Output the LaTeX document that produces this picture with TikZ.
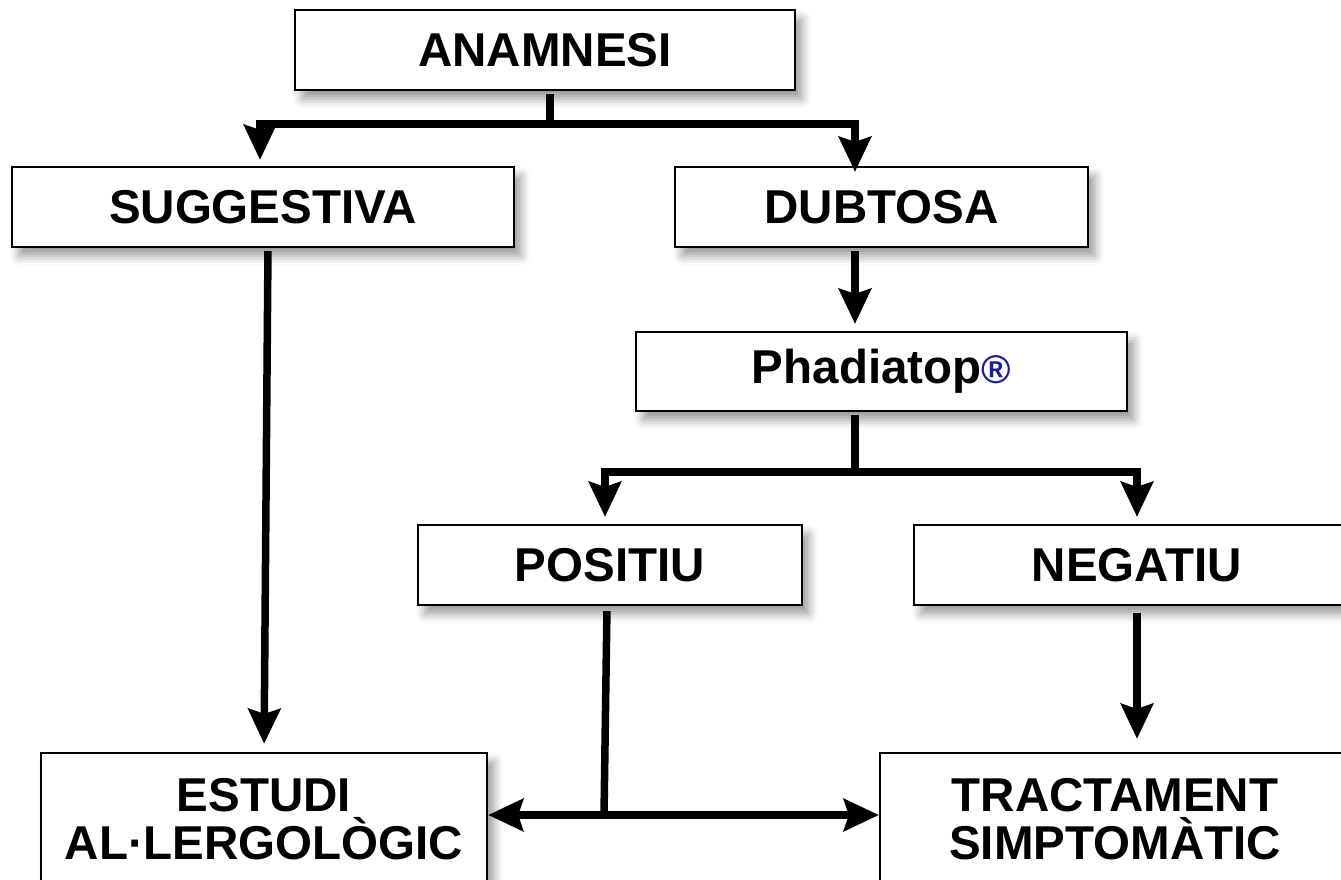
\documentclass[tikz,border=0pt]{standalone}
\usepackage{fontspec}
\setmainfont{Liberation Sans}
\usetikzlibrary{arrows.meta,shadows.blur,calc}
\definecolor{regblue}{RGB}{30,30,150}
\begin{document}
\begin{tikzpicture}[x=1pt,y=-1pt,
  box/.style={draw=black,line width=2.2pt,fill=white,inner sep=0pt,align=center,
    font=\bfseries\fontsize{47.5}{48}\selectfont,
    blur shadow={shadow xshift=7pt,shadow yshift=-9pt,shadow blur radius=9pt,shadow opacity=40}},
  conn/.style={line width=7.5pt,line cap=butt,line join=miter},
  arr/.style={conn,-{Stealth[length=35pt,width=32pt,inset=5pt]}}]
\useasboundingbox (0,0) rectangle (1341,879);

\node[box,minimum width=500pt,minimum height=80pt] (anam) at (545,50) {ANAMNESI};
\node[box,minimum width=502pt,minimum height=80pt] (sugg) at (263,207) {SUGGESTIVA};
\node[box,minimum width=413pt,minimum height=80pt] (dub) at (881.5,207) {DUBTOSA};
\node[box,minimum width=491pt,minimum height=79pt] (phad) at (881.5,371.5) {Phadiatop\textcolor{regblue}{\fontsize{40}{40}\selectfont ®}};
\node[box,minimum width=384pt,minimum height=80pt] (pos) at (610,565) {POSITIU};
\node[box,minimum width=446pt,minimum height=80pt] (neg) at (1137,565) {NEGATIU};
\node[box,minimum width=446pt,minimum height=132pt] (est) at (264,819) {ESTUDI\\AL·LERGOLÒGIC};
\node[box,minimum width=470pt,minimum height=132pt] (tract) at (1115,819) {TRACTAMENT\\SIMPTOMÀTIC};

\coordinate (j1) at (550,124);
\coordinate (cx) at (855,0);
\coordinate (j2) at (855,472);
\coordinate (jp) at (604,815);

% anamnesi split
\draw[conn,shorten <=3pt] (anam.south -| j1) -- (j1);
\draw[arr,shorten >=6pt] (j1) -| ([xshift=-3pt]sugg.north);
\draw[arr,shorten >=-6pt] (j1) -| (dub.north -| cx);
% suggestiva -> estudi
\draw[arr,shorten <=3pt,shorten >=8pt] ([xshift=5pt]sugg.south) -- (est.north);
% dubtosa -> phadiatop
\draw[arr,shorten <=3pt,shorten >=7pt] (dub.south -| cx) -- (phad.north -| cx);
% phadiatop split
\draw[conn,shorten <=3pt] (phad.south -| cx) -- (j2);
\draw[arr,shorten >=7pt] (j2) -| ([xshift=-5pt]pos.north);
\draw[arr,shorten >=7pt] (j2) -| (neg.north);
% positiu -> both
\draw[conn,shorten <=5pt] ([xshift=-3pt]pos.south) -- (jp);
\draw[arr] (jp) -- (est.east |- jp);
\draw[arr] (jp) -- (tract.west |- jp);
% negatiu -> tractament
\draw[arr,shorten <=7pt,shorten >=13pt] (neg.south) -- (tract.north -| neg.south);
\end{tikzpicture}
\end{document}
